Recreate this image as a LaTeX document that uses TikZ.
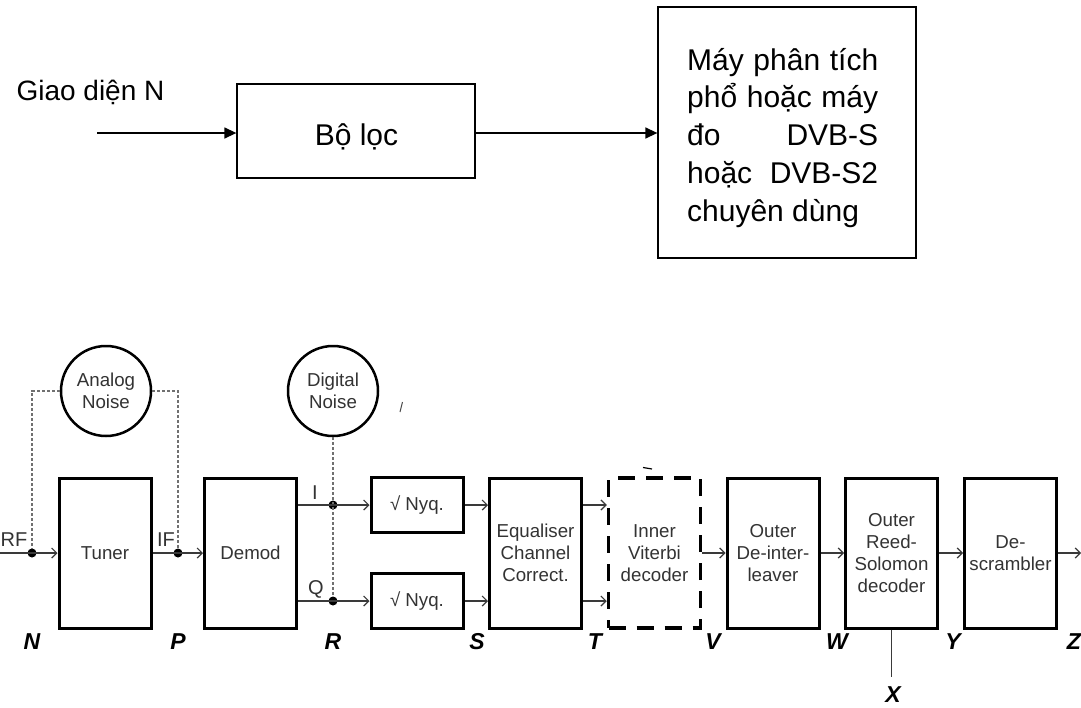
\documentclass[tikz,border=0pt]{standalone}
\usepackage{fontspec}
\setmainfont{Liberation Sans}
\usetikzlibrary{arrows.meta}
\definecolor{txtgray}{HTML}{333333}
\definecolor{lngray}{HTML}{3A3A3A}
\definecolor{dashgray}{HTML}{707070}
\begin{document}
\begin{tikzpicture}[x=1pt,y=-1pt,
  topbox/.style={draw=black, line width=1.3pt, inner sep=0pt},
  toptext/.style={anchor=base west, inner sep=0pt, font=\fontsize{30}{38}\selectfont},
  toparrow/.style={draw=black, line width=1.4pt, -{Triangle[length=12pt,width=11pt]}},
  blk/.style={draw=black, line width=3pt, minimum width=92pt, minimum height=150pt, inner sep=0pt, align=center, text=txtgray, font=\fontsize{18.7}{22}\selectfont},
  smallblk/.style={blk, minimum height=55pt},
  dashblk/.style={blk, draw=black, dash pattern=on 17pt off 11pt, line width=3.5pt},
  sig/.style={draw=lngray, line width=1.2pt, -{Straight Barb[length=5pt,width=10pt,line width=1.2pt]}},
  plain/.style={draw=lngray, line width=1.2pt},
  noise/.style={draw=dashgray, line width=1.1pt, dash pattern=on 3pt off 2pt},
  noisecirc/.style={draw=black, circle, line width=2.5pt, minimum size=90pt, inner sep=0pt, align=center, text=txtgray, font=\fontsize{18.7}{22}\selectfont},
  dot/.style={circle, fill=black, inner sep=0pt, minimum size=9pt},
  lbl/.style={font=\fontsize{23}{26}\selectfont\bfseries\itshape, text=black, inner sep=0pt},
  sublbl/.style={font=\fontsize{20}{22}\selectfont, text=txtgray, inner sep=0pt}
]
\useasboundingbox[fill=white] (0,0) rectangle (1081,707);

% ---------------- top diagram ----------------
\node[font=\fontsize{28}{32}\selectfont, inner sep=0pt, anchor=base] (gi) at (90.5,100) {Giao diện N};
\coordinate (inS) at (97,133);
\node[topbox, minimum width=238pt, minimum height=94pt] (loc) at (356,131) {};
\node[font=\fontsize{30}{34}\selectfont, inner sep=0pt, anchor=base] (loctxt) at (356.5,145) {Bộ lọc};
\node[topbox, minimum width=258pt, minimum height=251pt] (may) at (787,132.5) {};
\node[toptext] (m1) at (687,70) {\makebox[191pt][s]{Máy phân tích}};
\node[toptext] (m2) at (687,107.8) {\makebox[191pt][s]{phổ hoặc máy}};
\node[toptext] (m3) at (687,145.6) {\makebox[191pt][s]{đo DVB-S}};
\node[toptext] (m4) at (687,183.4) {\makebox[191pt][s]{hoặc DVB-S2}};
\node[toptext] (m5) at (687,221.2) {chuyên dùng};
\draw[toparrow] (inS) -- (loc.west |- inS);
\draw[toparrow] (loc.east |- inS) -- (may.west |- inS);

% ---------------- bottom diagram ----------------
\node[noisecirc] (an) at (106,391) {Analog\\Noise};
\node[noisecirc] (dn) at (333,391) {Digital\\Noise};

\node[blk] (tuner) at (105,553) {Tuner};
\node[blk] (demod) at (250.5,553) {Demod};
\node[smallblk] (nyq1) at (417,505) {√ Nyq.};
\node[smallblk] (nyq2) at (417,601) {√ Nyq.};
\node[blk] (eq) at (535.5,553) {Equaliser\\Channel\\Correct.};
\node[dashblk] (vit) at (654.5,553) {Inner\\Viterbi\\decoder};
\node[blk] (deint) at (773,553) {Outer\\De-inter-\\leaver};
\node[blk] (rs) at (891.5,553) {Outer\\Reed-\\Solomon\\decoder};
\node[blk] (desc) at (1010.5,553) {De-\\scrambler};

\node[dot] (rf) at (32,553) {};
\node[dot] (if) at (178,553) {};
\node[dot] (di) at (333,505) {};
\node[dot] (dq) at (333,601) {};

\coordinate (rfin) at (0,553);
\coordinate (zout) at (1081,553);
\coordinate (xend) at (891.5,677);

% noise injection (dashed)
\draw[noise] (an.west) -| (rf);
\draw[noise] (an.east) -| (if);
\draw[noise] (dn.south) -- (dq);

% signal path
\draw[sig] (rfin) -- (tuner.west);
\draw[sig] (tuner.east) -- (demod.west);
\draw[sig] (demod.east |- nyq1) -- (nyq1.west);
\draw[sig] (demod.east |- nyq2) -- (nyq2.west);
\draw[sig] (nyq1.east) -- (eq.west |- nyq1);
\draw[sig] (nyq2.east) -- (eq.west |- nyq2);
\draw[sig] (eq.east |- nyq1) -- (vit.west |- nyq1);
\draw[sig] (eq.east |- nyq2) -- (vit.west |- nyq2);
\draw[sig] (vit.east) -- (deint.west);
\draw[sig] (deint.east) -- (rs.west);
\draw[sig] (rs.east) -- (desc.west);
\draw[sig] (desc.east) -- (zout);
\draw[plain] (rs.south) -- (xend);

% small labels
\node[sublbl] (lrf) at (14,540) {RF};
\node[sublbl] (lif) at (166,540) {IF};
\node[sublbl] (li) at (315,492.5) {I};
\node[sublbl] (lq) at (316,589) {Q};

% interface letters
\node[lbl] (lN) at (32,642) {N};
\node[lbl] (lP) at (178,642) {P};
\node[lbl] (lR) at (333,642) {R};
\node[lbl] (lS) at (477,642) {S};
\node[lbl] (lT) at (595,642) {T};
\node[lbl] (lV) at (713,642) {V};
\node[lbl] (lW) at (837,642) {W};
\node[lbl] (lY) at (953,642) {Y};
\node[lbl] (lZ) at (1074,642) {Z};
\node[lbl] (lX) at (893,695) {X};

% stray marks present in the source image
\draw[draw=black!70, line width=1pt] (400,412) -- (402.5,402);
\draw[draw=black, line width=1.2pt] (643,467.5) -- (652,469);
\end{tikzpicture}
\end{document}
